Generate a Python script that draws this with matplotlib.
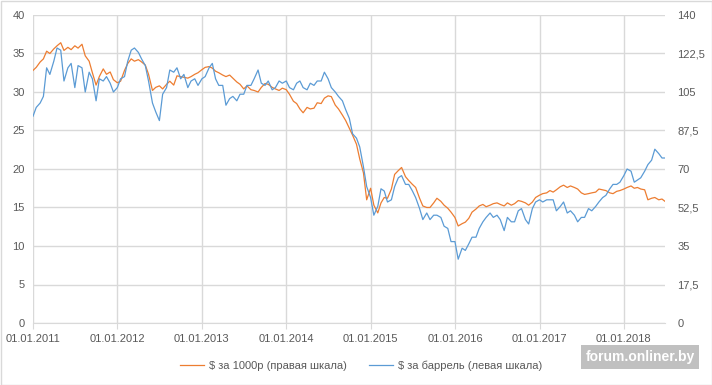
import matplotlib
matplotlib.use("Agg")
import matplotlib.pyplot as plt
import matplotlib.dates as mdates
from matplotlib.patches import Rectangle
from matplotlib.ticker import FixedLocator, FuncFormatter
import pandas as pd
import numpy as np

plt.rcParams['font.family'] = ['Liberation Sans', 'DejaVu Sans']

# semi-monthly observation dates (1st and 15th), last point end of June 2018
dates = list(pd.date_range('2011-01-01', '2018-06-15', freq='SMS')) + [pd.Timestamp('2018-06-28')]

# $ per 1000 rubles (plotted against the left scale)
usd_per_1000rub = [
    # 2011
    32.8, 33.2, 33.9, 34.3, 35.3, 35.0, 35.6, 36.0, 36.4, 35.4, 35.8, 35.5,
    36.0, 35.7, 36.2, 34.7, 34.0, 32.5, 30.9, 32.0, 33.0, 32.3, 32.6, 31.6,
    # 2012
    31.2, 31.4, 32.8, 33.7, 34.3, 34.0, 34.2, 33.9, 33.5, 32.3, 30.2, 30.6,
    30.8, 30.4, 31.0, 31.4, 30.9, 32.1, 32.0, 31.9, 31.8, 32.0, 32.3, 32.5,
    # 2013
    32.9, 33.2, 33.3, 33.1, 32.7, 32.5, 32.2, 32.0, 32.2, 31.8, 31.3, 31.0,
    30.4, 30.8, 30.3, 30.2, 30.0, 30.6, 31.1, 31.0, 30.6, 30.4, 30.2, 30.5,
    # 2014
    30.3, 29.7, 28.8, 28.5, 27.8, 27.3, 28.0, 27.8, 27.9, 28.6, 28.5, 29.2,
    29.5, 29.4, 28.3, 27.8, 27.0, 26.3, 25.3, 24.4, 23.2, 21.3, 19.5, 16.0,
    # 2015
    17.5, 15.3, 14.3, 15.6, 16.3, 16.2, 17.4, 19.3, 19.8, 20.2, 19.0, 18.5,
    18.0, 17.6, 16.2, 15.2, 15.0, 15.0, 15.6, 16.2, 15.8, 15.3, 14.9, 14.4,
    # 2016
    13.7, 12.6, 12.9, 13.1, 13.6, 14.4, 14.8, 15.2, 15.4, 15.1, 15.3, 15.5,
    15.6, 15.4, 15.2, 15.6, 15.3, 15.5, 15.9, 15.8, 15.6, 15.3, 15.7, 16.3,
    # 2017
    16.6, 16.8, 16.9, 17.2, 17.0, 17.3, 17.7, 17.9, 17.6, 17.8, 17.6, 17.4,
    16.9, 16.7, 16.8, 16.9, 17.0, 17.4, 17.3, 17.2, 16.9, 16.8, 17.1, 17.2,
    # 2018
    17.4, 17.6, 17.8, 17.5, 17.6, 17.4, 17.3, 16.0, 16.2, 16.3, 16.0, 16.1, 15.8,
]

# $ per barrel (plotted against the right scale)
usd_per_barrel = [
    # 2011
    94, 98, 100, 103, 116, 113, 119, 125, 124, 110, 116, 118,
    107, 117, 116, 105, 114, 111, 101, 111, 110, 112, 109, 105,
    # 2012
    107, 111, 112, 119, 124, 125, 123, 120, 117, 110, 100, 96,
    92, 104, 107, 115, 114, 116, 111, 113, 107, 110, 111, 108,
    # 2013
    111, 112, 116, 118, 111, 108, 108, 99, 102, 103, 101, 104,
    104, 108, 108, 111, 115, 109, 108, 110, 106, 107, 110, 109,
    # 2014
    110, 107, 106, 109, 110, 107, 106, 109, 108, 110, 110, 114,
    111, 107, 105, 103, 101, 97, 93, 86, 84, 80, 71, 62,
    # 2015
    57, 49, 53, 61, 60, 55, 56, 62, 66, 67, 63, 63,
    60, 57, 52, 47, 50, 47, 49, 49, 48, 44, 43, 37,
    # 2016
    37, 29, 34, 33, 36, 39, 39, 43, 46, 48, 50, 48,
    49, 47, 42, 48, 46, 46, 51, 52, 47, 45, 52, 55,
    # 2017
    56, 55, 56, 56, 56, 51, 53, 55, 50, 51, 49, 46,
    48, 48, 52, 51, 53, 55, 57, 58, 61, 63, 63, 64,
    # 2018
    67, 70, 69, 64, 65, 66, 69, 72, 74, 79, 77, 75, 75,
]

left_ticks = [0, 5, 10, 15, 20, 25, 30, 35, 40]
right_ticks = [0, 17.5, 35, 52.5, 70, 87.5, 105, 122.5, 140]
year_ticks = [pd.Timestamp(f'{y}-01-01') for y in range(2011, 2019)]

legend_orange = '$ за 1000р (правая шкала)'
legend_blue = '$ за баррель (левая шкала)'

ORANGE = '#ED7D31'
BLUE = '#5B9BD5'
GRID = '#D9D9D9'
TXT = '#595959'

fig = plt.figure(figsize=(7.12, 3.85), dpi=100)
ax = fig.add_axes([33/712, 1-323/385, (665-33)/712, (323-15)/385])
ax2 = ax.twinx()

l1, = ax.plot(dates, usd_per_1000rub, color=ORANGE, lw=0.9, label=legend_orange)
l2, = ax2.plot(dates, usd_per_barrel, color=BLUE, lw=0.9, label=legend_blue)

ax.set_xlim(pd.Timestamp('2011-01-01'), pd.Timestamp('2018-06-28'))
ax.set_ylim(0, 40)
ax2.set_ylim(0, 140)
ax.yaxis.set_major_locator(FixedLocator(left_ticks))
ax2.yaxis.set_major_locator(FixedLocator(right_ticks))
ax2.yaxis.set_major_formatter(FuncFormatter(lambda v, p: (f'{v:g}').replace('.', ',')))
ax.xaxis.set_major_locator(FixedLocator([mdates.date2num(d) for d in year_ticks]))
ax.xaxis.set_major_formatter(mdates.DateFormatter('%d.%m.%Y'))

ax.grid(True, color=GRID, lw=1.0)
ax.set_axisbelow(True)
for a in (ax, ax2):
    for s in a.spines.values():
        s.set_visible(False)
ax.spines['bottom'].set_visible(True)
ax.spines['bottom'].set_color(GRID)

ax.tick_params(axis='y', length=0, pad=6, labelsize=8, labelcolor=TXT)
ax2.tick_params(axis='y', length=0, pad=9, labelsize=8, labelcolor=TXT)
ax.tick_params(axis='x', length=4, color=GRID, pad=4, labelsize=8, labelcolor=TXT)

fig.legend(handles=[l1, l2], loc='center', bbox_to_anchor=(361/712, 1-366/385),
           ncol=2, frameon=False, fontsize=8, labelcolor=TXT,
           handlelength=2.2, handletextpad=0.4, columnspacing=2.0)

fig.text(640/712, 1-357/385, 'forum.onliner.by', color='white', fontsize=10,
         fontweight='bold', ha='center', va='center',
         bbox=dict(boxstyle='square,pad=0.35', facecolor='#B5B5B5', edgecolor='none', alpha=0.85))

fig.patches.append(Rectangle((0.5/712, 0.5/385), 1-1/712, 1-1/385, transform=fig.transFigure,
                             fill=False, edgecolor=GRID, lw=1.0))

fig.savefig('out.png', dpi=100)
